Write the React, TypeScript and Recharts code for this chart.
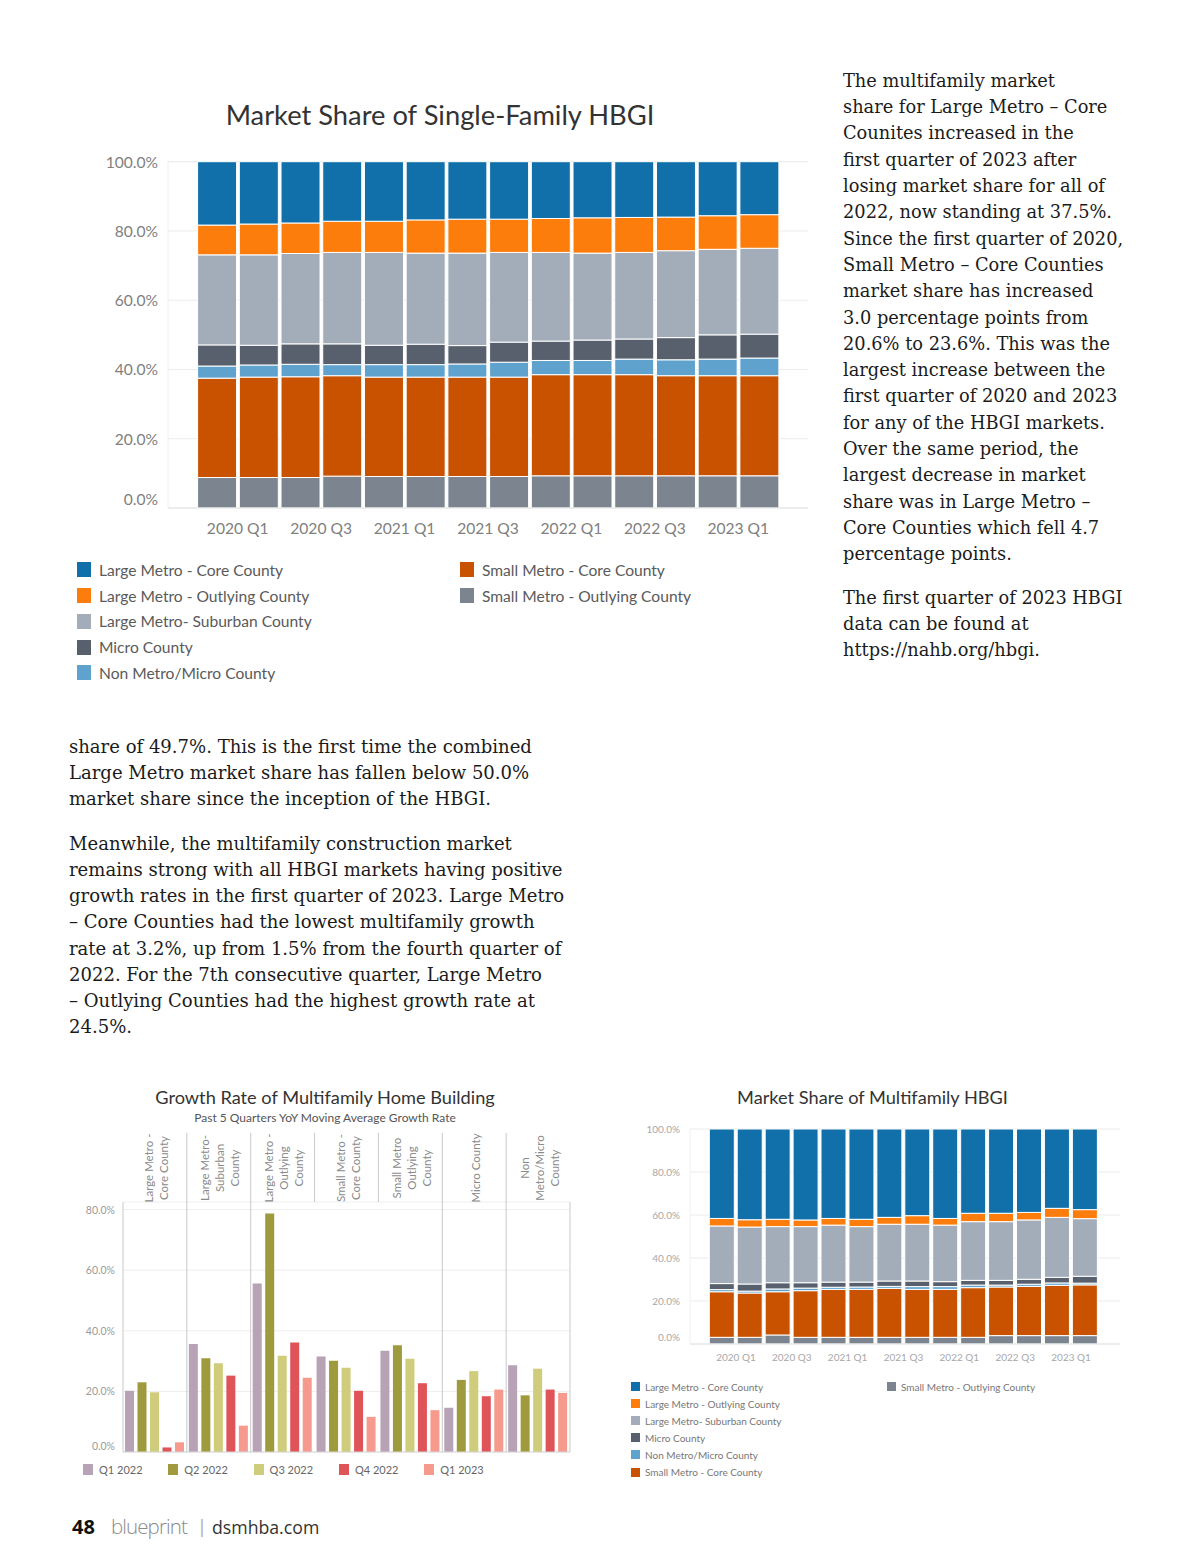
import React from "react";
import { BarChart, Bar, XAxis, YAxis, CartesianGrid, ReferenceLine } from "recharts";

// ---------- shared categories ----------
const quarters = [
  "2019 Q4", "2020 Q1", "2020 Q2", "2020 Q3", "2020 Q4", "2021 Q1", "2021 Q2",
  "2021 Q3", "2021 Q4", "2022 Q1", "2022 Q2", "2022 Q3", "2022 Q4", "2023 Q1",
];
const quarterLabels = ["2020 Q1", "2020 Q3", "2021 Q1", "2021 Q3", "2022 Q1", "2022 Q3", "2023 Q1"];

// ---------- single-family market share (%) ----------
const sfSmallMetroOutlying = [8.8, 8.8, 8.8, 9.2, 9.1, 9.1, 9.1, 9.1, 9.3, 9.3, 9.3, 9.3, 9.3, 9.3];
const sfSmallMetroCore = [28.7, 29.0, 29.1, 29.0, 28.7, 28.7, 28.7, 28.7, 29.2, 29.2, 29.2, 28.9, 28.9, 28.9];
const sfNonMetro = [3.5, 3.5, 3.6, 3.2, 3.6, 3.6, 3.8, 4.3, 4.1, 4.1, 4.5, 4.6, 4.8, 5.1];
const sfMicro = [6.1, 5.7, 5.9, 6.0, 5.6, 5.9, 5.3, 5.8, 5.6, 5.9, 5.8, 6.4, 7.0, 6.9];
const sfLargeSuburban = [26.0, 26.1, 26.1, 26.4, 26.8, 26.3, 26.7, 25.9, 25.6, 25.1, 25.0, 25.1, 24.7, 24.8];
const sfLargeOutlying = [8.6, 8.9, 8.8, 9.0, 9.0, 9.6, 9.8, 9.6, 9.8, 10.2, 10.1, 9.7, 9.7, 9.7];
const sfLargeCore = [18.3, 18.0, 17.7, 17.2, 17.2, 16.8, 16.6, 16.6, 16.4, 16.2, 16.1, 16.0, 15.6, 15.3];

// ---------- multifamily market share (%) ----------
const mfSmallMetroOutlying = [3.1, 3.1, 4.2, 3.1, 3.1, 3.1, 3.1, 3.1, 3.1, 3.1, 3.9, 3.9, 3.9, 3.9];
const mfSmallMetroCore = [21.2, 20.6, 20.1, 21.7, 22.3, 22.3, 22.8, 22.3, 22.3, 23.1, 22.6, 22.9, 23.4, 23.6];
const mfNonMetro = [1.0, 0.9, 1.3, 1.2, 1.0, 1.1, 0.9, 1.3, 1.3, 1.2, 0.9, 1.0, 1.1, 0.8];
const mfMicro = [2.8, 3.3, 2.9, 2.5, 2.4, 2.3, 2.5, 2.6, 2.3, 2.2, 2.2, 2.3, 2.6, 3.2];
const mfLargeSuburban = [26.8, 26.5, 26.1, 26.1, 26.5, 25.8, 26.4, 26.4, 26.3, 27.3, 27.3, 27.6, 27.9, 26.8];
const mfLargeOutlying = [3.5, 3.4, 3.4, 3.1, 3.1, 3.4, 3.2, 4.0, 3.1, 3.9, 3.9, 3.5, 4.2, 4.2];
const mfLargeCore = [41.6, 42.2, 42.0, 42.3, 41.6, 42.0, 41.1, 40.3, 41.6, 39.2, 39.2, 38.8, 36.9, 37.5];

// ---------- multifamily growth rate (%) ----------
const growthMarkets = [
  "Large Metro - Core County",
  "Large Metro - Suburban County",
  "Large Metro - Outlying County",
  "Small Metro - Core County",
  "Small Metro Outlying County",
  "Micro County",
  "Non Metro/Micro County",
];
const growthHeaderLines = [
  ["Large Metro -", "Core County"],
  ["Large Metro-", "Suburban", "County"],
  ["Large Metro -", "Outlying", "County"],
  ["Small Metro -", "Core County"],
  ["Small Metro", "Outlying", "County"],
  ["Micro County"],
  ["Non", "Metro/Micro", "County"],
];
const growthQ1_2022 = [20.2, 35.6, 55.6, 31.5, 33.4, 14.6, 28.6];
const growthQ2_2022 = [23.0, 30.9, 78.7, 30.1, 35.2, 23.8, 18.7];
const growthQ3_2022 = [19.7, 29.3, 31.8, 27.8, 30.8, 26.7, 27.5];
const growthQ4_2022 = [1.5, 25.2, 36.1, 20.2, 22.7, 18.4, 20.6];
const growthQ1_2023 = [3.2, 8.7, 24.5, 11.6, 13.8, 20.6, 19.5];

// ---------- series meta ----------
const shareSeries = [
  { key: "smo", name: "Small Metro - Outlying County", color: "#7b848f" },
  { key: "smc", name: "Small Metro - Core County", color: "#c85200" },
  { key: "nm", name: "Non Metro/Micro County", color: "#5fa2ce" },
  { key: "mc", name: "Micro County", color: "#57606c" },
  { key: "lms", name: "Large Metro- Suburban County", color: "#a3acb9" },
  { key: "lmo", name: "Large Metro - Outlying County", color: "#fc7d0b" },
  { key: "lmc", name: "Large Metro - Core County", color: "#1170aa" },
];
const growthSeries = [
  { key: "q1_22", name: "Q1 2022", color: "#b8a2b6" },
  { key: "q2_22", name: "Q2 2022", color: "#9f9a3e" },
  { key: "q3_22", name: "Q3 2022", color: "#cfcc7c" },
  { key: "q4_22", name: "Q4 2022", color: "#de5459" },
  { key: "q1_23", name: "Q1 2023", color: "#f69a8d" },
];

const sfData = quarters.map((q, i) => ({
  quarter: q,
  smo: sfSmallMetroOutlying[i], smc: sfSmallMetroCore[i], nm: sfNonMetro[i], mc: sfMicro[i],
  lms: sfLargeSuburban[i], lmo: sfLargeOutlying[i], lmc: sfLargeCore[i],
}));
const mfData = quarters.map((q, i) => ({
  quarter: q,
  smo: mfSmallMetroOutlying[i], smc: mfSmallMetroCore[i], nm: mfNonMetro[i], mc: mfMicro[i],
  lms: mfLargeSuburban[i], lmo: mfLargeOutlying[i], lmc: mfLargeCore[i],
}));
const growthData = growthMarkets.map((m, i) => ({
  market: m,
  q1_22: growthQ1_2022[i], q2_22: growthQ2_2022[i], q3_22: growthQ3_2022[i],
  q4_22: growthQ4_2022[i], q1_23: growthQ1_2023[i],
}));

const FONT = "Lato, 'Open Sans', sans-serif";
const SERIF = "'DejaVu Serif', serif";

const makeYTick = (fontSize: number, fill: string, zeroShift: number) => (props: any) => {
  const { x, y, payload } = props;
  return (
    <text x={x} y={payload.value === 0 ? y - zeroShift : y} textAnchor="end" dominantBaseline="central"
      fontSize={fontSize} fill={fill} fontFamily={FONT}>
      {Number(payload.value).toFixed(1)}%
    </text>
  );
};
// one label per pair of quarters, centred on the boundary between the two bars of the pair
const makeQuarterTick = (fontSize: number, fill: string) => (props: any) => {
  const { x, y, payload, index } = props;
  if (index % 2 !== 0) return <g />;
  const off = payload && payload.offset ? payload.offset : 0;
  return (
    <text x={x + off} y={y} textAnchor="middle" dominantBaseline="hanging" fontSize={fontSize} fill={fill} fontFamily={FONT}>
      {quarterLabels[index / 2]}
    </text>
  );
};
const HeaderTick = (props: any) => {
  const { x, y, payload } = props;
  const idx = growthMarkets.indexOf(payload.value);
  const lines = growthHeaderLines[idx] || [payload.value];
  const n = lines.length;
  return (
    <g>
      {lines.map((l, j) => (
        <text key={j} transform={`translate(${x + (j - (n - 1) / 2) * 15 + 1}, ${y - 34}) rotate(-90)`}
          textAnchor="middle" dominantBaseline="central" fontSize={11.5} fill="#8a8a8a" fontFamily={FONT}>
          {l}
        </text>
      ))}
    </g>
  );
};

const ShareChart = ({ data, width, height, margin, pad, gap, yFont, yFill, xFont, xFill, zeroShift, tickMargin, axisH }: any) => (
  <BarChart width={width} height={height} data={data} margin={margin} barCategoryGap={gap}>
    <CartesianGrid vertical={false} stroke="#ececec" />
    <XAxis dataKey="quarter" padding={pad} height={axisH} axisLine={{ stroke: "#e4e4e4" }} tickLine={false}
      tickSize={0} tickMargin={tickMargin} tick={makeQuarterTick(xFont, xFill)} interval={0} />
    <YAxis domain={[0, 100]} ticks={[0, 20, 40, 60, 80, 100]} width={60} axisLine={{ stroke: "#f0f0f0" }}
      tickLine={false} tickSize={0} tickMargin={10} tick={makeYTick(yFont, yFill, zeroShift)} interval={0} />
    {shareSeries.map((s) => (
      <Bar key={s.key} dataKey={s.key} name={s.name} stackId="a" fill={s.color} stroke="#ffffff"
        strokeWidth={1} isAnimationActive={false} />
    ))}
  </BarChart>
);

const abs = (left: number, top: number, extra: any = {}) => ({ position: "absolute" as const, left, top, ...extra });

const rightText1 = [
  "The multifamily market",
  "share for Large Metro \u2013 Core",
  "Counites increased in the",
  "first quarter of 2023 after",
  "losing market share for all of",
  "2022, now standing at 37.5%.",
  "Since the first quarter of 2020,",
  "Small Metro \u2013 Core Counties",
  "market share has increased",
  "3.0 percentage points from",
  "20.6% to 23.6%. This was the",
  "largest increase between the",
  "first quarter of 2020 and 2023",
  "for any of the HBGI markets.",
  "Over the same period, the",
  "largest decrease in market",
  "share was in Large Metro \u2013",
  "Core Counties which fell 4.7",
  "percentage points.",
];
const rightText2 = ["The first quarter of 2023 HBGI", "data can be found at", "https://nahb.org/hbgi."];
const leftText1 = [
  "share of 49.7%. This is the first time the combined",
  "Large Metro market share has fallen below 50.0%",
  "market share since the inception of the HBGI.",
];
const leftText2 = [
  "Meanwhile, the multifamily construction market",
  "remains strong with all HBGI markets having positive",
  "growth rates in the first quarter of 2023. Large Metro",
  "\u2013 Core Counties had the lowest multifamily growth",
  "rate at 3.2%, up from 1.5% from the fourth quarter of",
  "2022. For the 7th consecutive quarter, Large Metro",
  "\u2013 Outlying Counties had the highest growth rate at",
  "24.5%.",
];

const Para = ({ lines, left, top, lh, size }: any) => (
  <div style={abs(left, top, { fontFamily: SERIF, fontSize: size, lineHeight: `${lh}px`, color: "#1b1b1b" })}>
    {lines.map((l: string, i: number) => (
      <div key={i} style={{ whiteSpace: "nowrap" }}>{l}</div>
    ))}
  </div>
);

const sfLegendCols = [["lmc", "lmo", "lms", "mc", "nm"], ["smc", "smo"]];
const mfLegendCols = [["lmc", "lmo", "lms", "mc", "nm", "smc"], ["smo"]];
const seriesByKey = (k: string) => shareSeries.find((s) => s.key === k)!;

const fullDividers = [1, 2, 5, 6];
const headerOnlyDividers = [3, 4];
const HEADER_TOP = 105.3;
const PLOT_TOP = 82.5;

export default function App() {
  return (
    <div style={{ position: "absolute", left: 0, top: 0, width: 1200, height: 1558, background: "#fff", overflow: "hidden" }}>
      {/* ---- top chart ---- */}
      <div style={abs(0, 99, { width: 880, textAlign: "center", fontFamily: FONT, fontSize: 27.3, color: "#333", lineHeight: "32px" })}>
        Market Share of Single-Family HBGI
      </div>
      <div style={abs(0, 140)}>
        <ShareChart data={sfData} width={830} height={410}
          margin={{ top: 21.7, right: 22, bottom: 12, left: 108 }} pad={{ left: 28, right: 28 }} gap={1.6}
          yFont={15.6} yFill="#808080" xFont={15.6} xFill="#808080" zeroShift={9} tickMargin={14} axisH={30} />
      </div>
      {sfLegendCols.map((col, ci) => (
        <div key={ci} style={abs(ci === 0 ? 77 : 460, 557)}>
          {col.map((k) => {
            const s = seriesByKey(k);
            return (
              <div key={k} style={{ display: "flex", alignItems: "center", height: 25.75 }}>
                <div style={{ width: 14, height: 15, background: s.color, marginRight: 8 }} />
                <span style={{ fontFamily: FONT, fontSize: 15.6, color: "#5a5a5a", whiteSpace: "nowrap" }}>{s.name}</span>
              </div>
            );
          })}
        </div>
      ))}

      {/* ---- text ---- */}
      <Para lines={rightText1} left={843} top={67.9} lh={26.3} size={17.8} />
      <Para lines={rightText2} left={843} top={585} lh={26.2} size={17.8} />
      <Para lines={leftText1} left={69} top={733.9} lh={26.1} size={18.05} />
      <Para lines={leftText2} left={69} top={830.9} lh={26.15} size={18.05} />

      {/* ---- growth chart ---- */}
      <div style={abs(0, 1086, { width: 650, textAlign: "center", fontFamily: FONT, fontSize: 18.2, color: "#333", lineHeight: "22px" })}>
        Growth Rate of Multifamily Home Building
      </div>
      <div style={abs(0, 1110, { width: 650, textAlign: "center", fontFamily: FONT, fontSize: 12, color: "#555", lineHeight: "16px" })}>
        Past 5 Quarters YoY Moving Average Growth Rate
      </div>
      <div style={abs(0, 1130)}>
        <BarChart width={600} height={330} data={growthData} margin={{ top: 2, right: 30, bottom: 8, left: 63 }}
          barCategoryGap={2} barGap={3.5}>
          <CartesianGrid vertical={false} stroke="#eeeeee" />
          <XAxis dataKey="market" orientation="top" height={70} axisLine={false} tickLine={false} tickSize={0}
            tickMargin={0} tick={HeaderTick} interval={0} />
          <YAxis domain={[0, PLOT_TOP]} ticks={[0, 20, 40, 60, 80]} width={60} axisLine={false} tickLine={false}
            tickSize={0} tickMargin={8} tick={makeYTick(10.5, "#9a9a9a", 6)} interval={0} allowDataOverflow />
          <ReferenceLine y={0} stroke="#d6d6d6" />
          <ReferenceLine segment={[{ x: growthMarkets[0], y: 0 }, { x: growthMarkets[0], y: PLOT_TOP }]}
            position="start" ifOverflow="visible" stroke="#c9c9c9" />
          <ReferenceLine segment={[{ x: growthMarkets[6], y: 0 }, { x: growthMarkets[6], y: PLOT_TOP }]}
            position="end" ifOverflow="visible" stroke="#c9c9c9" />
          {fullDividers.map((b) => (
            <ReferenceLine key={"f" + b} segment={[{ x: growthMarkets[b], y: 0 }, { x: growthMarkets[b], y: HEADER_TOP }]}
              position="start" ifOverflow="visible" stroke="#c9c9c9" />
          ))}
          {headerOnlyDividers.map((b) => (
            <ReferenceLine key={"h" + b} segment={[{ x: growthMarkets[b], y: PLOT_TOP }, { x: growthMarkets[b], y: HEADER_TOP }]}
              position="start" ifOverflow="visible" stroke="#c9c9c9" />
          ))}
          {growthSeries.map((s) => (
            <Bar key={s.key} dataKey={s.key} name={s.name} fill={s.color} isAnimationActive={false} />
          ))}
        </BarChart>
      </div>
      <div style={abs(83, 1462, { display: "flex" })}>
        {growthSeries.map((s) => (
          <div key={s.key} style={{ display: "flex", alignItems: "center", width: 85.3, height: 14 }}>
            <div style={{ width: 10, height: 11, background: s.color, marginRight: 6 }} />
            <span style={{ fontFamily: FONT, fontSize: 11, color: "#666" }}>{s.name}</span>
          </div>
        ))}
      </div>

      {/* ---- multifamily share chart ---- */}
      <div style={abs(620, 1086, { width: 505, textAlign: "center", fontFamily: FONT, fontSize: 18.2, color: "#333", lineHeight: "22px" })}>
        Market Share of Multifamily HBGI
      </div>
      <div style={abs(620, 1110)}>
        <ShareChart data={mfData} width={510} height={265}
          margin={{ top: 19, right: 10, bottom: 6, left: 10 }} pad={{ left: 18, right: 21 }} gap={1.3}
          yFont={10} yFill="#a8a8a8" xFont={10} xFill="#a8a8a8" zeroShift={7} tickMargin={9} axisH={25} />
      </div>
      {mfLegendCols.map((col, ci) => (
        <div key={ci} style={abs(ci === 0 ? 631 : 887, 1378)}>
          {col.map((k) => {
            const s = seriesByKey(k);
            return (
              <div key={k} style={{ display: "flex", alignItems: "center", height: 17.1 }}>
                <div style={{ width: 9, height: 9, background: s.color, marginRight: 5 }} />
                <span style={{ fontFamily: FONT, fontSize: 10, color: "#777", whiteSpace: "nowrap" }}>{s.name}</span>
              </div>
            );
          })}
        </div>
      ))}

      {/* ---- footer ---- */}
      <div style={abs(72, 1513, { fontFamily: "'Open Sans', sans-serif", fontWeight: 700, fontSize: 20, color: "#111", lineHeight: "28px" })}>48</div>
      <div style={abs(111, 1511, { fontFamily: "'Open Sans', sans-serif", fontWeight: 300, fontSize: 20.5, color: "#8a8a8a", lineHeight: "30px", letterSpacing: -0.9 })}>blueprint</div>
      <div style={abs(197, 1512, { fontFamily: "'Open Sans', sans-serif", fontSize: 18, color: "#aaa", lineHeight: "28px" })}>|</div>
      <div style={abs(212, 1513, { fontFamily: "'Open Sans', sans-serif", fontSize: 17.7, color: "#333", lineHeight: "28px" })}>dsmhba.com</div>
    </div>
  );
}
